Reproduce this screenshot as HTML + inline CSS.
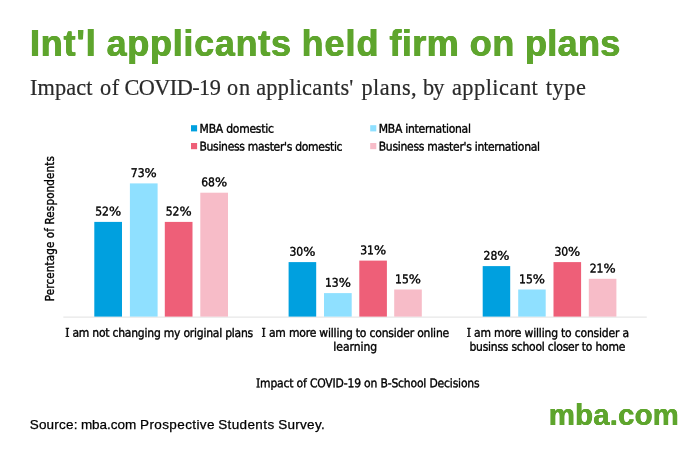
<!DOCTYPE html>
<html lang="en">
<head>
<meta charset="utf-8">
<title>Int'l applicants held firm on plans</title>
<style>
  html,body{margin:0;padding:0;background:#fff;}
  body{width:700px;height:450px;position:relative;overflow:hidden;font-family:"Liberation Sans",sans-serif;}
  .ln{position:absolute;left:0;width:700px;height:0;line-height:1;white-space:nowrap;}
  .ln .w{position:absolute;top:0;white-space:pre;}
  #title{font-weight:bold;color:#5ea52d;text-shadow:0.45px 0 0 #5ea52d,-0.45px 0 0 #5ea52d;}
  #sub{font-family:"Liberation Serif",serif;color:#2a2a2a;-webkit-text-stroke:0.2px #2a2a2a;}
  #src{color:#000;-webkit-text-stroke:0.25px #000;}
  #logo{font-weight:bold;color:#5ea52d;text-shadow:0.3px 0 0 #5ea52d,-0.3px 0 0 #5ea52d;}
  svg{position:absolute;left:0;top:0;}
  svg text{font-family:"DejaVu Sans Condensed","DejaVu Sans","Liberation Sans",sans-serif;fill:#000;stroke:#000;stroke-width:0.35;}
</style>
</head>
<body>
<div class="ln" id="title" style="top:26px;font-size:36px"><span class="w" style="left:30.05px;letter-spacing:0.773px">Int'l </span><span class="w" style="left:106.58px;letter-spacing:0.709px">applicants </span><span class="w" style="left:301.59px;letter-spacing:0.948px">held </span><span class="w" style="left:389.41px;letter-spacing:0.435px">firm </span><span class="w" style="left:469.70px;letter-spacing:0.677px">on </span><span class="w" style="left:524.95px;letter-spacing:0.331px">plans</span></div>
<div class="ln" id="sub" style="top:76.5px;font-size:22.3px"><span class="w" style="left:29.91px;letter-spacing:0.137px">Impact </span><span class="w" style="left:100.07px;letter-spacing:0.481px">of </span><span class="w" style="left:124.41px;letter-spacing:-0.556px">COVID-19 </span><span class="w" style="left:227.11px;letter-spacing:0.804px">on </span><span class="w" style="left:256.13px;letter-spacing:0.282px">applicants' </span><span class="w" style="left:361.46px;letter-spacing:0.515px">plans, </span><span class="w" style="left:422.95px;letter-spacing:-0.754px">by </span><span class="w" style="left:451.88px;letter-spacing:0.527px">applicant </span><span class="w" style="left:545.64px;letter-spacing:0.597px">type</span></div>

<svg width="700" height="450" viewBox="0 0 700 450">
  <!-- legend -->
  <rect x="191" y="125.2" width="6.1" height="6.2" fill="#00a0df"/>
  <rect x="191" y="143" width="6.1" height="6.2" fill="#ee5f78"/>
  <rect x="370.2" y="125.2" width="6.1" height="6.2" fill="#8fe0ff"/>
  <rect x="370.2" y="143" width="6.1" height="6.2" fill="#f7bcc8"/>
  <text id="lg1" font-size="12" x="199.62" y="132.80" letter-spacing="-0.245" transform="rotate(0.03 199.6 132.8)">MBA domestic</text>
  <text id="lg2" font-size="12" x="199.44" y="150.60" letter-spacing="-0.298" transform="rotate(0.03 199.4 150.6)">Business master's domestic</text>
  <text id="lg3" font-size="12" x="378.73" y="132.80" letter-spacing="-0.248" transform="rotate(0.03 378.7 132.8)">MBA international</text>
  <text id="lg4" font-size="12" x="378.72" y="150.60" letter-spacing="-0.284" transform="rotate(0.03 378.7 150.6)">Business master's international</text>

  <!-- axis -->
  <rect x="63.3" y="316.6" width="583.5" height="1" fill="#e2e2e2"/>
  <text id="yl" font-size="11.55" transform="translate(53.5,301.2) rotate(-90)" letter-spacing="0.125">Percentage of Respondents</text>

  <!-- group 1 -->
  <rect x="94.3" y="221.9" width="27.7" height="94.70" fill="#00a0df"/>
  <rect x="129.9" y="183.4" width="27.7" height="133.20" fill="#8fe0ff"/>
  <rect x="164.8" y="221.9" width="27.7" height="94.70" fill="#ee5f78"/>
  <rect x="200.3" y="192.7" width="27.7" height="123.90" fill="#f7bcc8"/>
  <!-- group 2 -->
  <rect x="288.6" y="262.1" width="27.6" height="54.50" fill="#00a0df"/>
  <rect x="324" y="293.1" width="27.7" height="23.50" fill="#8fe0ff"/>
  <rect x="359.3" y="260.6" width="27.6" height="56.00" fill="#ee5f78"/>
  <rect x="394.2" y="289.5" width="27.6" height="27.10" fill="#f7bcc8"/>
  <!-- group 3 -->
  <rect x="482.7" y="266.1" width="27.5" height="50.50" fill="#00a0df"/>
  <rect x="518.2" y="289.5" width="27.5" height="27.10" fill="#8fe0ff"/>
  <rect x="553.5" y="262.1" width="27.6" height="54.50" fill="#ee5f78"/>
  <rect x="588.8" y="278.8" width="27.6" height="37.80" fill="#f7bcc8"/>

  <!-- data labels -->
  <text id="d00" font-size="12" x="108.20" y="215.55" text-anchor="middle" transform="rotate(0.03 108.2 215.6)">52<tspan font-family="DejaVu Sans,sans-serif" letter-spacing="0" textLength="12.2" lengthAdjust="spacingAndGlyphs">%</tspan></text>
  <text id="d01" font-size="12" x="143.80" y="177.05" text-anchor="middle" transform="rotate(0.03 143.8 177.1)">73<tspan font-family="DejaVu Sans,sans-serif" letter-spacing="0" textLength="12.2" lengthAdjust="spacingAndGlyphs">%</tspan></text>
  <text id="d02" font-size="12" x="178.70" y="215.55" text-anchor="middle" transform="rotate(0.03 178.7 215.6)">52<tspan font-family="DejaVu Sans,sans-serif" letter-spacing="0" textLength="12.2" lengthAdjust="spacingAndGlyphs">%</tspan></text>
  <text id="d03" font-size="12" x="214.20" y="186.35" text-anchor="middle" transform="rotate(0.03 214.2 186.3)">68<tspan font-family="DejaVu Sans,sans-serif" letter-spacing="0" textLength="12.2" lengthAdjust="spacingAndGlyphs">%</tspan></text>
  <text id="d04" font-size="12" x="302.45" y="255.75" text-anchor="middle" transform="rotate(0.03 302.4 255.8)">30<tspan font-family="DejaVu Sans,sans-serif" letter-spacing="0" textLength="12.2" lengthAdjust="spacingAndGlyphs">%</tspan></text>
  <text id="d05" font-size="12" x="337.90" y="286.75" text-anchor="middle" transform="rotate(0.03 337.9 286.8)">13<tspan font-family="DejaVu Sans,sans-serif" letter-spacing="0" textLength="12.2" lengthAdjust="spacingAndGlyphs">%</tspan></text>
  <text id="d06" font-size="12" x="373.15" y="254.25" text-anchor="middle" transform="rotate(0.03 373.1 254.2)">31<tspan font-family="DejaVu Sans,sans-serif" letter-spacing="0" textLength="12.2" lengthAdjust="spacingAndGlyphs">%</tspan></text>
  <text id="d07" font-size="12" x="408.05" y="283.15" text-anchor="middle" transform="rotate(0.03 408.1 283.1)">15<tspan font-family="DejaVu Sans,sans-serif" letter-spacing="0" textLength="12.2" lengthAdjust="spacingAndGlyphs">%</tspan></text>
  <text id="d08" font-size="12" x="496.50" y="259.75" text-anchor="middle" transform="rotate(0.03 496.5 259.8)">28<tspan font-family="DejaVu Sans,sans-serif" letter-spacing="0" textLength="12.2" lengthAdjust="spacingAndGlyphs">%</tspan></text>
  <text id="d09" font-size="12" x="532.00" y="283.15" text-anchor="middle" transform="rotate(0.03 532.0 283.1)">15<tspan font-family="DejaVu Sans,sans-serif" letter-spacing="0" textLength="12.2" lengthAdjust="spacingAndGlyphs">%</tspan></text>
  <text id="d10" font-size="12" x="567.35" y="255.75" text-anchor="middle" transform="rotate(0.03 567.4 255.8)">30<tspan font-family="DejaVu Sans,sans-serif" letter-spacing="0" textLength="12.2" lengthAdjust="spacingAndGlyphs">%</tspan></text>
  <text id="d11" font-size="12" x="602.65" y="272.45" text-anchor="middle" transform="rotate(0.03 602.6 272.4)">21<tspan font-family="DejaVu Sans,sans-serif" letter-spacing="0" textLength="12.2" lengthAdjust="spacingAndGlyphs">%</tspan></text>

  <!-- category labels -->
  <text id="c1" font-size="12" x="159.10" y="336.90" letter-spacing="-0.222" text-anchor="middle" transform="rotate(0.03 159.1 336.9)"><tspan font-family="DejaVu Serif Condensed,DejaVu Serif,serif" font-size="12">I</tspan> am not changing my original plans</text>
  <text id="c2a" font-size="12" x="355.31" y="336.90" letter-spacing="-0.186" text-anchor="middle" transform="rotate(0.03 355.3 336.9)"><tspan font-family="DejaVu Serif Condensed,DejaVu Serif,serif" font-size="12">I</tspan> am more willing to consider online</text>
  <text id="c2b" font-size="12" x="355.24" y="350.80" letter-spacing="-0.022" text-anchor="middle" transform="rotate(0.03 355.2 350.8)">learning</text>
  <text id="c3a" font-size="12" x="547.84" y="336.90" letter-spacing="-0.185" text-anchor="middle" transform="rotate(0.03 547.8 336.9)"><tspan font-family="DejaVu Serif Condensed,DejaVu Serif,serif" font-size="12">I</tspan> am more willing to consider a</text>
  <text id="c3b" font-size="12" x="547.28" y="350.80" letter-spacing="-0.232" text-anchor="middle" transform="rotate(0.03 547.3 350.8)">businss school closer to home</text>
  <text id="xt" font-size="12" x="367.72" y="387.30" letter-spacing="-0.175" text-anchor="middle" transform="rotate(0.03 367.7 387.3)"><tspan font-family="DejaVu Serif Condensed,DejaVu Serif,serif" font-size="12">I</tspan>mpact of COVID-19 on B-School Decisions</text>
</svg>

<div class="ln" id="src" style="top:417.8px;font-size:13.5px"><span class="w" style="left:29.73px;letter-spacing:0.195px">Source: </span><span class="w" style="left:80.88px;letter-spacing:-0.035px">mba.com </span><span class="w" style="left:140.09px;letter-spacing:0.384px">Prospective </span><span class="w" style="left:218.18px;letter-spacing:0.384px">Students </span><span class="w" style="left:278.37px;letter-spacing:0.251px">Survey.</span></div>
<div class="ln" id="logo" style="top:399.8px;font-size:29.3px"><span class="w" style="left:548.83px;letter-spacing:0.225px">mba.com</span></div>
</body>
</html>
